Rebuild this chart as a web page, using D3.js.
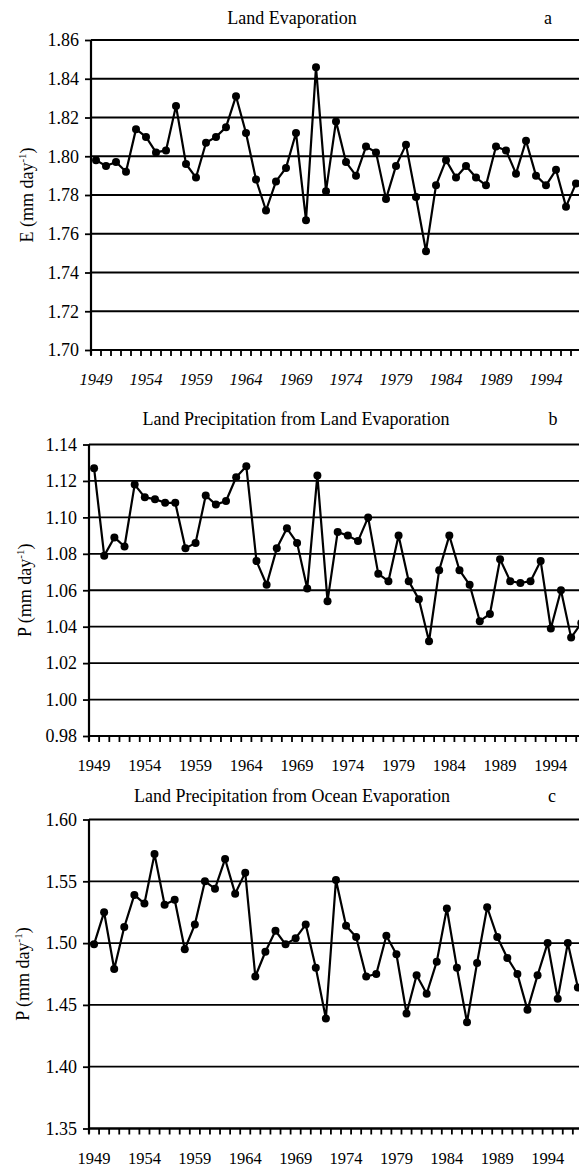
<!DOCTYPE html>
<html>
<head>
<meta charset="utf-8">
<script src="https://cdn.jsdelivr.net/npm/d3@7"></script>
<style>
  html, body { margin: 0; padding: 0; background: #fff; }
  svg { display: block; }
  text { font-family: "Liberation Serif", "Times New Roman", serif; fill: #000; }
</style>
</head>
<body>
<svg id="chart" width="579" height="1170"></svg>
<script>
// Years of the annual series
const years = d3.range(1949, 1998);

// (a) Land evaporation, mm/day
const landEvaporation = [
  1.798, 1.795, 1.797, 1.792, 1.814, 1.810, 1.802, 1.803, 1.826, 1.796,
  1.789, 1.807, 1.810, 1.815, 1.831, 1.812, 1.788, 1.772, 1.787, 1.794,
  1.812, 1.767, 1.846, 1.782, 1.818, 1.797, 1.790, 1.805, 1.802, 1.778,
  1.795, 1.806, 1.779, 1.751, 1.785, 1.798, 1.789, 1.795, 1.789, 1.785,
  1.805, 1.803, 1.791, 1.808, 1.790, 1.785, 1.793, 1.774, 1.786
];

// (b) Land precipitation from land evaporation, mm/day
const precipFromLand = [
  1.127, 1.079, 1.089, 1.084, 1.118, 1.111, 1.110, 1.108, 1.108, 1.083,
  1.086, 1.112, 1.107, 1.109, 1.122, 1.128, 1.076, 1.063, 1.083, 1.094,
  1.086, 1.061, 1.123, 1.054, 1.092, 1.090, 1.087, 1.100, 1.069, 1.065,
  1.090, 1.065, 1.055, 1.032, 1.071, 1.090, 1.071, 1.063, 1.043, 1.047,
  1.077, 1.065, 1.064, 1.065, 1.076, 1.039, 1.060, 1.034, 1.042
];

// (c) Land precipitation from ocean evaporation, mm/day
const precipFromOcean = [
  1.499, 1.525, 1.479, 1.513, 1.539, 1.532, 1.572, 1.531, 1.535, 1.495,
  1.515, 1.550, 1.544, 1.568, 1.540, 1.557, 1.473, 1.493, 1.510, 1.499,
  1.504, 1.515, 1.480, 1.439, 1.551, 1.514, 1.505, 1.473, 1.475, 1.506,
  1.491, 1.443, 1.474, 1.459, 1.485, 1.528, 1.480, 1.436, 1.484, 1.529,
  1.505, 1.488, 1.475, 1.446, 1.474, 1.500, 1.455, 1.500, 1.464
];

// Axis tick values
const xTickYears = [1949, 1954, 1959, 1964, 1969, 1974, 1979, 1984, 1989, 1994];
const yTicksA = [1.70, 1.72, 1.74, 1.76, 1.78, 1.80, 1.82, 1.84, 1.86];
const yTicksB = [0.98, 1.00, 1.02, 1.04, 1.06, 1.08, 1.10, 1.12, 1.14];
const yTicksC = [1.35, 1.40, 1.45, 1.50, 1.55, 1.60];

// Panel titles and letters
const titles = [
  "Land Evaporation",
  "Land Precipitation from Land Evaporation",
  "Land Precipitation from Ocean Evaporation"
];
const letters = ["a", "b", "c"];
const yLabelSymbols = ["E", "P", "P"];

// Panel layout (pixel frames)
const panels = [
  { values: landEvaporation, ticks: yTicksA, left: 91, right: 591, top: 40, bottom: 350,
    italicYears: true, titleX: 292, titleY: 24, letterX: 548, yLabelX: 27 },
  { values: precipFromLand, ticks: yTicksB, left: 89, right: 596.5, top: 444.5, bottom: 736,
    italicYears: false, titleX: 296, titleY: 425, letterX: 553, yLabelX: 25 },
  { values: precipFromOcean, ticks: yTicksC, left: 89, right: 593, top: 819.5, bottom: 1128.5,
    italicYears: false, titleX: 292, titleY: 802, letterX: 552, yLabelX: 23 }
];

const svg = d3.select("#chart");

panels.forEach((p, i) => {
  const g = svg.append("g");
  const x = d3.scaleLinear().domain([1948.5, 1998.5]).range([p.left, p.right]);
  const y = d3.scaleLinear().domain(d3.extent(p.ticks)).range([p.bottom, p.top]);
  const fmt = d3.format(".2f");

  // Horizontal gridlines
  g.selectAll("line.grid").data(p.ticks).join("line")
    .attr("class", "grid")
    .attr("x1", p.left).attr("x2", p.right)
    .attr("y1", d => y(d)).attr("y2", d => y(d))
    .attr("stroke", "#000").attr("stroke-width", 1.8);

  // Y axis with outward ticks
  const yAxis = d3.axisLeft(y).tickValues(p.ticks).tickFormat(fmt).tickSize(6).tickPadding(6);
  const ya = g.append("g").attr("transform", `translate(${p.left},0)`).call(yAxis);
  ya.attr("font-family", null).attr("font-size", null);
  ya.select(".domain").attr("stroke-width", 2.2).attr("d", `M0,${p.top}V${p.bottom + 5}`);
  ya.selectAll(".tick line").attr("stroke-width", 1.8);
  ya.selectAll(".tick text").style("font-size", "18px");

  // X axis: tick marks between years, labels every five years
  const boundaries = d3.range(1948.5, 1999, 1);
  const xa = g.append("g").attr("transform", `translate(0,${p.bottom})`);
  xa.append("line")
    .attr("x1", p.left).attr("x2", p.right)
    .attr("stroke", "#000").attr("stroke-width", 2.2);
  xa.selectAll("line.tk").data(boundaries).join("line")
    .attr("class", "tk")
    .attr("x1", d => x(d)).attr("x2", d => x(d))
    .attr("y1", 0).attr("y2", 6)
    .attr("stroke", "#000").attr("stroke-width", 1.8);
  xa.selectAll("text").data(xTickYears).join("text")
    .attr("x", d => x(d))
    .attr("y", 35)
    .attr("text-anchor", "middle")
    .style("font-size", "16.5px")
    .style("font-style", p.italicYears ? "italic" : "normal")
    .text(d => d);

  // Series line and markers
  const pts = years.map((yr, k) => [yr, p.values[k]]);
  g.append("path")
    .datum(pts)
    .attr("fill", "none")
    .attr("stroke", "#000")
    .attr("stroke-width", 2.2)
    .attr("stroke-linejoin", "round")
    .attr("d", d3.line().x(d => x(d[0])).y(d => y(d[1])));
  g.selectAll("circle").data(pts).join("circle")
    .attr("cx", d => x(d[0]))
    .attr("cy", d => y(d[1]))
    .attr("r", 4)
    .attr("fill", "#000");

  // Title and panel letter
  g.append("text")
    .attr("x", p.titleX).attr("y", p.titleY)
    .attr("text-anchor", "middle")
    .style("font-size", "18px")
    .text(titles[i]);
  g.append("text")
    .attr("x", p.letterX).attr("y", p.titleY)
    .attr("text-anchor", "middle")
    .style("font-size", "18px")
    .text(letters[i]);

  // Rotated y-axis label with superscript
  const cy = (p.top + p.bottom) / 2;
  const lbl = g.append("text")
    .attr("transform", `translate(${p.yLabelX + 6},${cy}) rotate(-90)`)
    .attr("text-anchor", "middle")
    .style("font-size", "18px");
  lbl.append("tspan").text(`${yLabelSymbols[i]} (mm day`);
  lbl.append("tspan").attr("dy", -7).style("font-size", "11px").text("-1");
  lbl.append("tspan").attr("dy", 7).text(")");
});
</script>
</body>
</html>
